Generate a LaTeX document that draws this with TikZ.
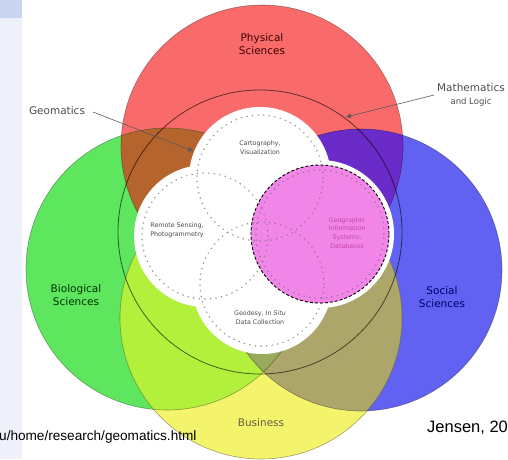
\documentclass[tikz,border=0pt]{standalone}
\usepackage{fontspec}
\setmainfont{DejaVu Sans}
\newfontfamily\arialfont{Liberation Sans}
\usetikzlibrary{arrows.meta}
\definecolor{cred}{HTML}{F96B6B}
\definecolor{cgreen}{HTML}{5EE65E}
\definecolor{cblue}{HTML}{6262F2}
\definecolor{cyellow}{HTML}{F4F46C}
\definecolor{cbrown}{HTML}{B6642E}
\definecolor{cpurple}{HTML}{6A2BC8}
\definecolor{cyg}{HTML}{B2F03C}
\definecolor{colive}{HTML}{ACA66A}
\definecolor{cgby}{HTML}{98AA5C}
\definecolor{cpink}{HTML}{F285E8}
\definecolor{cpinktext}{HTML}{C248A8}
\definecolor{panel}{HTML}{EEF1FA}
\definecolor{panelbox}{HTML}{C9D5F0}
\tikzset{
  bigfont/.style={font=\fontsize{10.5}{12.5}\selectfont, align=center, inner sep=0pt},
  smallfont/.style={font=\fontsize{6.3}{8.8}\selectfont, align=center, inner sep=0pt, text=black!70},
  dotcirc/.style={draw=black!55, line width=1.7pt, dash pattern=on 0pt off 5.6pt, line cap=round, opacity=0.75},
  rim/.style={draw=black, opacity=0.35, line width=0.6pt},
  pointer/.style={draw=black!65, line width=0.6pt, -{Triangle[length=5pt,width=4.5pt]}},
}
\begin{document}
\begin{tikzpicture}[x=1pt,y=-1pt]
\useasboundingbox (0,0) rectangle (508,459);
\fill[white] (0,0) rectangle (508,459);
\fill[panel] (0,0) rectangle (22,459);
\fill[panelbox] (0,0) rectangle (22,18);
% circle centres
\coordinate (cR) at (262,146);
\coordinate (cG) at (167,269);
\coordinate (cB) at (361,270);
\coordinate (cY) at (261,318);
\coordinate (cM) at (260,232);
\def\rr{141pt}
% main fills
\fill[cred] (cR) circle[radius=\rr];
\fill[cgreen] (cG) circle[radius=\rr];
\fill[cblue] (cB) circle[radius=\rr];
\fill[cyellow] (cY) circle[radius=\rr];
% overlaps
\begin{scope}\clip (cR) circle[radius=\rr]; \fill[cbrown] (cG) circle[radius=\rr]; \end{scope}
\begin{scope}\clip (cR) circle[radius=\rr]; \fill[cpurple] (cB) circle[radius=\rr]; \end{scope}
\begin{scope}\clip (cG) circle[radius=\rr]; \fill[cyg] (cY) circle[radius=\rr]; \end{scope}
\begin{scope}\clip (cB) circle[radius=\rr]; \fill[colive] (cY) circle[radius=\rr]; \end{scope}
\begin{scope}\clip (cB) circle[radius=\rr]; \clip (cG) circle[radius=\rr]; \fill[cgby] (cY) circle[radius=\rr]; \end{scope}
% rims
\draw[rim] (cR) circle[radius=\rr];
\draw[rim] (cG) circle[radius=\rr];
\draw[rim] (cB) circle[radius=\rr];
\draw[rim] (cY) circle[radius=\rr];
% mathematics circle
\draw[black, opacity=0.6, line width=0.8pt] (cM) circle[radius=142pt];
% flower
\coordinate (fC) at (260,178);
\coordinate (fR) at (205,236);
\coordinate (fG) at (320,234);
\coordinate (fD) at (262,284);
\fill[white] (fC) circle[radius=71pt] (fR) circle[radius=71pt] (fG) circle[radius=74pt] (fD) circle[radius=70pt];
\fill[cpink] (fG) circle[radius=69pt];
\draw[dotcirc] (fC) circle[radius=63pt];
\draw[dotcirc] (fR) circle[radius=63pt];
\draw[dotcirc] (fG) circle[radius=64pt];
\draw[dotcirc] (fD) circle[radius=62pt];
\draw[black, line width=0.9pt, dash pattern=on 3pt off 2pt] (fG) circle[radius=69pt];
% labels
\node[bigfont, text=black!60!red!60!black] (phys) at (262,44) {Physical\\Sciences};
\node[bigfont, text=green!20!black] (bio) at (76,295) {Biological\\Sciences};
\node[bigfont, text=blue!40!black] (soc) at (442,297) {Social\\Sciences};
\node[bigfont, text=yellow!30!black] (bus) at (261,423) {Business};
\node[bigfont, text=black!70] (geo) at (57,111) {Geomatics};
\node[bigfont, text=black!70] (math) at (471,95) {Mathematics\\{\fontsize{8.5}{10}\selectfont and Logic}};
\coordinate (geotip) at (193,151);
\coordinate (mathtip) at (346,117);
\draw[pointer] (93,112) -- (geotip);
\draw[pointer] (434,95) -- (mathtip);
% inner labels
\node[smallfont] (carto) at (260,148) {Cartography,\\Visualization};
\node[smallfont] (rs) at (177,230) {Remote Sensing,\\Photogrammetry};
\node[smallfont, text=cpinktext] (gis) at (347,233) {Geographic\\Information\\Systems,\\Databases};
\node[smallfont] (gd) at (260,318) {Geodesy, \textit{In Situ}\\Data Collection};
% footers
\node[font=\arialfont\fontsize{13.6}{15}\selectfont, anchor=west, inner sep=0pt] (url) at (-1,437) {u/home/research/geomatics.html};
\node[font=\arialfont\fontsize{16.5}{18}\selectfont, anchor=west, inner sep=0pt] (jen) at (427,428) {Jensen, 20};
\end{tikzpicture}
\end{document}
